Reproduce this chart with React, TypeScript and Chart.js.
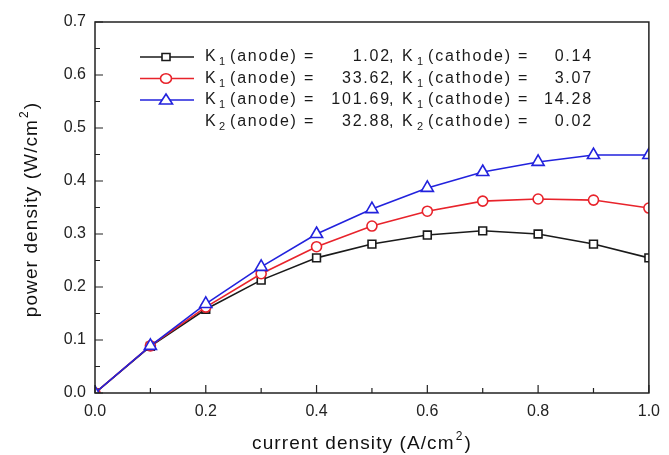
import React, { useEffect, useRef } from 'react';
import { Chart, registerables } from 'chart.js';

Chart.register(...registerables);

const currentDensity = [0, 0.1, 0.2, 0.3, 0.4, 0.5, 0.6, 0.7, 0.8, 0.9, 1.0];
const powerCase1 = [0, 0.088, 0.158, 0.213, 0.255, 0.281, 0.298, 0.306, 0.300, 0.281, 0.255];
const powerCase2 = [0, 0.089, 0.162, 0.225, 0.276, 0.315, 0.343, 0.362, 0.366, 0.364, 0.349];
const powerCase3 = [0, 0.089, 0.168, 0.238, 0.300, 0.347, 0.387, 0.417, 0.436, 0.449, 0.449];

const xMajorTicks = [0, 0.2, 0.4, 0.6, 0.8, 1.0];
const xMinorTicks = [0.1, 0.3, 0.5, 0.7, 0.9];
const yMajorTicks = [0, 0.1, 0.2, 0.3, 0.4, 0.5, 0.6, 0.7];
const yMinorTicks = [0.05, 0.15, 0.25, 0.35, 0.45, 0.55, 0.65];

// axis titles: main text, superscript, closing
const xTitleParts = ['current density (A/cm', '2', ')'];
const yTitleParts = ['power density (W/cm', '2', ')'];

const seriesColors = ['#1a1a1a', '#e8232b', '#2222dd'];
const seriesMarkers = ['rect', 'circle', 'triangle'];

const legendSubA = ['1', '1', '1', '2'];
const legendAnode = ['1.02', '33.62', '101.69', '32.88'];
const legendSubC = ['1', '1', '1', '2'];
const legendCathode = ['0.14', '3.07', '14.28', '0.02'];
const legendSeries = [0, 1, 2, -1];

const FONT = '"Liberation Sans", Arial, Helvetica, sans-serif';
const TITLE_SIZE = 19;
const TITLE_SPACING = '1.1px';

function drawMarker(ctx: CanvasRenderingContext2D, kind: string, x: number, y: number, color: string) {
  ctx.save();
  ctx.strokeStyle = color;
  ctx.fillStyle = '#ffffff';
  ctx.lineWidth = 1.6;
  ctx.beginPath();
  if (kind === 'rect') {
    ctx.rect(x - 4, y - 3.5, 8, 7);
  } else if (kind === 'circle') {
    ctx.ellipse(x, y, 5.5, 4.8, 0, 0, Math.PI * 2);
  } else {
    ctx.moveTo(x, y - 6);
    ctx.lineTo(x + 6.5, y + 4);
    ctx.lineTo(x - 6.5, y + 4);
    ctx.closePath();
  }
  ctx.fill();
  ctx.stroke();
  ctx.restore();
}

function drawTitle(ctx: CanvasRenderingContext2D, parts: string[], startX: number, baseY: number) {
  const c = ctx as any;
  c.letterSpacing = TITLE_SPACING;
  ctx.font = `${TITLE_SIZE}px ${FONT}`;
  ctx.textAlign = 'left';
  ctx.textBaseline = 'alphabetic';
  let x = startX;
  ctx.fillText(parts[0], x, baseY);
  x += ctx.measureText(parts[0]).width + 1;
  ctx.font = `12px ${FONT}`;
  ctx.fillText(parts[1], x, baseY - 9);
  x += ctx.measureText(parts[1]).width + 1;
  ctx.font = `${TITLE_SIZE}px ${FONT}`;
  ctx.fillText(parts[2], x, baseY);
}

function titleWidth(ctx: CanvasRenderingContext2D, parts: string[]) {
  const c = ctx as any;
  c.letterSpacing = TITLE_SPACING;
  ctx.font = `${TITLE_SIZE}px ${FONT}`;
  let w = ctx.measureText(parts[0]).width + ctx.measureText(parts[2]).width + 2;
  ctx.font = `12px ${FONT}`;
  w += ctx.measureText(parts[1]).width;
  return w;
}

const framePlugin = {
  id: 'framePlugin',
  afterDraw(chart: any) {
    const { ctx, chartArea } = chart;
    const xs = chart.scales.x;
    const ys = chart.scales.y;
    ctx.save();
    ctx.strokeStyle = '#222';
    ctx.lineWidth = 1.5;
    ctx.strokeRect(chartArea.left, chartArea.top, chartArea.right - chartArea.left, chartArea.bottom - chartArea.top);
    ctx.lineWidth = 1.2;
    ctx.beginPath();
    xMajorTicks.forEach((v) => {
      const px = xs.getPixelForValue(v);
      ctx.moveTo(px, chartArea.bottom);
      ctx.lineTo(px, chartArea.bottom - 8);
    });
    xMinorTicks.forEach((v) => {
      const px = xs.getPixelForValue(v);
      ctx.moveTo(px, chartArea.bottom);
      ctx.lineTo(px, chartArea.bottom - 5);
    });
    yMajorTicks.forEach((v) => {
      const py = ys.getPixelForValue(v);
      ctx.moveTo(chartArea.left, py);
      ctx.lineTo(chartArea.left + 8, py);
    });
    yMinorTicks.forEach((v) => {
      const py = ys.getPixelForValue(v);
      ctx.moveTo(chartArea.left, py);
      ctx.lineTo(chartArea.left + 5, py);
    });
    ctx.stroke();

    // axis titles
    ctx.fillStyle = '#111';
    const xw = titleWidth(ctx, xTitleParts);
    const xCenter = (chartArea.left + chartArea.right) / 2 - 10;
    drawTitle(ctx, xTitleParts, xCenter - xw / 2, 449);

    const yw = titleWidth(ctx, yTitleParts);
    const yCenter = (chartArea.top + chartArea.bottom) / 2 + 2;
    ctx.save();
    ctx.translate(37, yCenter + yw / 2);
    ctx.rotate(-Math.PI / 2);
    drawTitle(ctx, yTitleParts, 0, 0);
    ctx.restore();

    // legend
    const rowY = [57, 78.5, 100, 121.5];
    ctx.textBaseline = 'middle';
    for (let i = 0; i < legendAnode.length; i++) {
      const y = rowY[i];
      const s = legendSeries[i];
      if (s >= 0) {
        ctx.save();
        ctx.strokeStyle = seriesColors[s];
        ctx.lineWidth = 1.6;
        ctx.beginPath();
        ctx.moveTo(140, y);
        ctx.lineTo(194, y);
        ctx.stroke();
        ctx.restore();
        drawMarker(ctx, seriesMarkers[s], 166, y, seriesColors[s]);
      }
      ctx.fillStyle = '#1a1a1a';
      ctx.textBaseline = 'middle';
      (ctx as any).letterSpacing = '1.8px';
      ctx.font = `16px ${FONT}`;
      ctx.textAlign = 'left';
      ctx.fillText('K', 205, y);
      ctx.fillText('(anode) =', 230, y);
      ctx.fillText(',', 389, y);
      ctx.fillText('K', 402, y);
      ctx.fillText('(cathode) =', 428, y);
      ctx.textAlign = 'right';
      ctx.fillText(legendAnode[i], 391, y);
      ctx.fillText(legendCathode[i], 593, y);
      ctx.textAlign = 'left';
      ctx.font = `11px ${FONT}`;
      (ctx as any).letterSpacing = '0px';
      ctx.fillText(legendSubA[i], 219, y + 5);
      ctx.fillText(legendSubC[i], 417, y + 5);
    }
    ctx.restore();
  },
};

export default function App() {
  const canvasRef = useRef<HTMLCanvasElement | null>(null);

  useEffect(() => {
    if (!canvasRef.current) return;
    const mk = (vals: number[]) => currentDensity.map((x, i) => ({ x, y: vals[i] }));
    const seriesData = [powerCase1, powerCase2, powerCase3];
    const chart = new Chart(canvasRef.current, {
      type: 'line',
      data: {
        datasets: seriesData.map((vals, i) => ({
          label: `case ${i + 1}`,
          data: mk(vals),
          borderColor: seriesColors[i],
          borderWidth: 1.6,
          pointStyle: seriesMarkers[i] as any,
          pointRadius: i === 0 ? 5.5 : i === 1 ? 5 : 7,
          pointBorderWidth: 1.6,
          pointBorderColor: seriesColors[i],
          pointBackgroundColor: '#ffffff',
          tension: 0,
          clip: 0,
          order: 2 - i,
        })),
      },
      options: {
        responsive: false,
        animation: false,
        events: [],
        layout: { padding: { top: 22, right: 18, left: 0, bottom: 0 } },
        plugins: {
          legend: { display: false },
          tooltip: { enabled: false },
        },
        scales: {
          x: {
            type: 'linear',
            min: 0,
            max: 1,
            grid: { display: false, drawTicks: false },
            border: { display: false },
            ticks: {
              stepSize: 0.2,
              padding: 9,
              color: '#222',
              font: { family: FONT, size: 16 },
              callback: (v: any) => Number(v).toFixed(1),
            },
            afterFit: (scale: any) => {
              scale.height = 62;
            },
          },
          y: {
            type: 'linear',
            min: 0,
            max: 0.7,
            grid: { display: false, drawTicks: false },
            border: { display: false },
            ticks: {
              stepSize: 0.1,
              padding: 9,
              color: '#222',
              font: { family: FONT, size: 16 },
              callback: (v: any) => Number(v).toFixed(1),
            },
            afterFit: (scale: any) => {
              scale.width = 95;
            },
          },
        },
      },
      plugins: [framePlugin],
    });
    return () => chart.destroy();
  }, []);

  return (
    <div style={{ position: 'fixed', left: 0, top: 0, width: 669, height: 455, background: '#fff' }}>
      <canvas ref={canvasRef} width={669} height={455} style={{ display: 'block' }} />
    </div>
  );
}
